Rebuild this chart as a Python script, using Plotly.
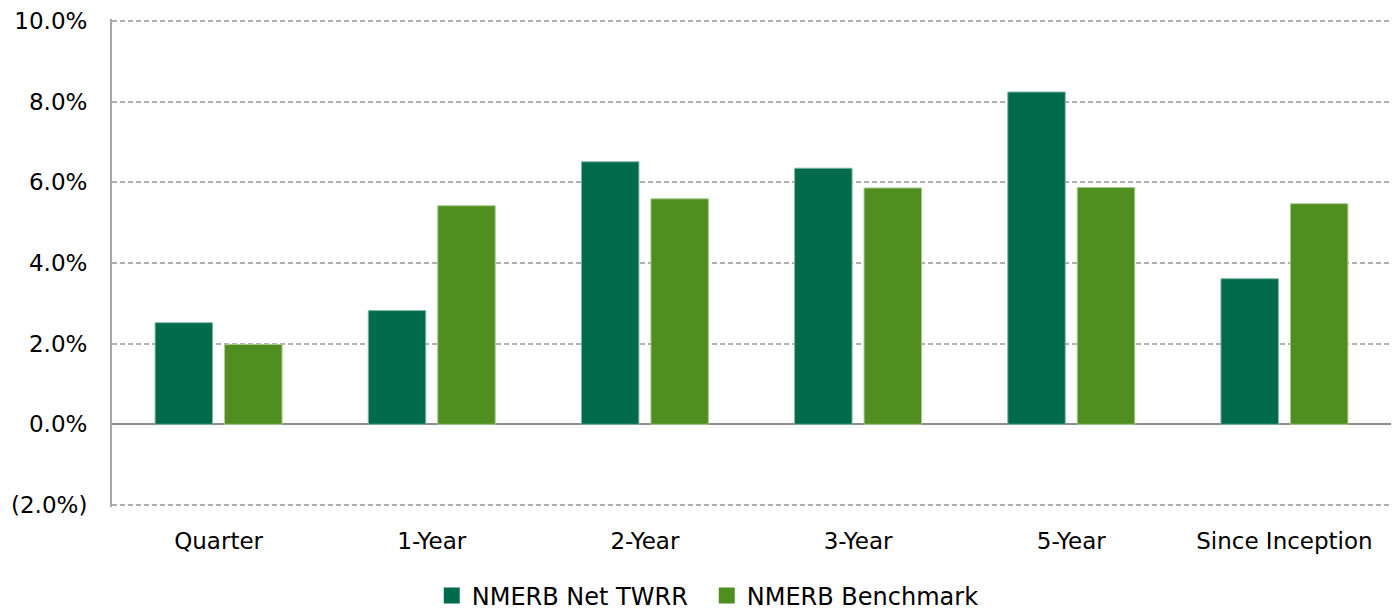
import plotly.graph_objects as go

categories = ["Quarter", "1-Year", "2-Year", "3-Year", "5-Year", "Since Inception"]
net_twrr = [2.52, 2.82, 6.51, 6.35, 8.24, 3.61]
benchmark = [1.98, 5.42, 5.59, 5.86, 5.87, 5.47]
tick_vals = [-2, 0, 2, 4, 6, 8, 10]
tick_text = ["(2.0%)", "0.0%", "2.0%", "4.0%", "6.0%", "8.0%", "10.0%"]
series_names = ["NMERB Net TWRR", "NMERB Benchmark"]
colors = ["#006B4B", "#508E20"]
edge_colors = ["#7FB5A5", "#A8C98F"]

FONT = "'DejaVu Sans', sans-serif"

fig = go.Figure()
for vals, name, c, ec in zip([net_twrr, benchmark], series_names, colors, edge_colors):
    fig.add_trace(go.Bar(x=categories, y=vals, name=name, showlegend=False,
                         marker=dict(color=c, line=dict(color=ec, width=1))))
# legend-only square markers
for name, c in zip(series_names, colors):
    fig.add_trace(go.Scatter(x=[None], y=[None], mode="markers", name=name,
                             marker=dict(symbol="square", size=17, color=c)))

fig.update_layout(
    width=1399, height=611,
    margin=dict(l=104, r=16, t=11, b=112, autoexpand=False),
    plot_bgcolor="white", paper_bgcolor="white",
    barmode="group", bargap=0.348, bargroupgap=0.173,
    font=dict(family=FONT, size=23, color="#000000"),
    showlegend=True,
    legend=dict(orientation="h", x=0.25, xanchor="left", y=-0.182, yanchor="middle",
                font=dict(size=24), itemwidth=30, entrywidth=230,
                traceorder="normal"),
)
fig.update_xaxes(showgrid=False, showline=False, ticks="", ticklabelstandoff=18,
                 tickfont=dict(size=23))
fig.update_yaxes(range=[-2.05, 10.05], tickvals=tick_vals, ticktext=tick_text,
                 showgrid=True, gridcolor="#B0B0B0", griddash="5px,3px", gridwidth=1.6,
                 zeroline=True, zerolinecolor="#8C8C8C", zerolinewidth=2,
                 showline=True, linecolor="#A6A6A6", linewidth=2,
                 ticks="", ticklabelstandoff=18, tickfont=dict(size=23))

fig.write_html("out.html")
